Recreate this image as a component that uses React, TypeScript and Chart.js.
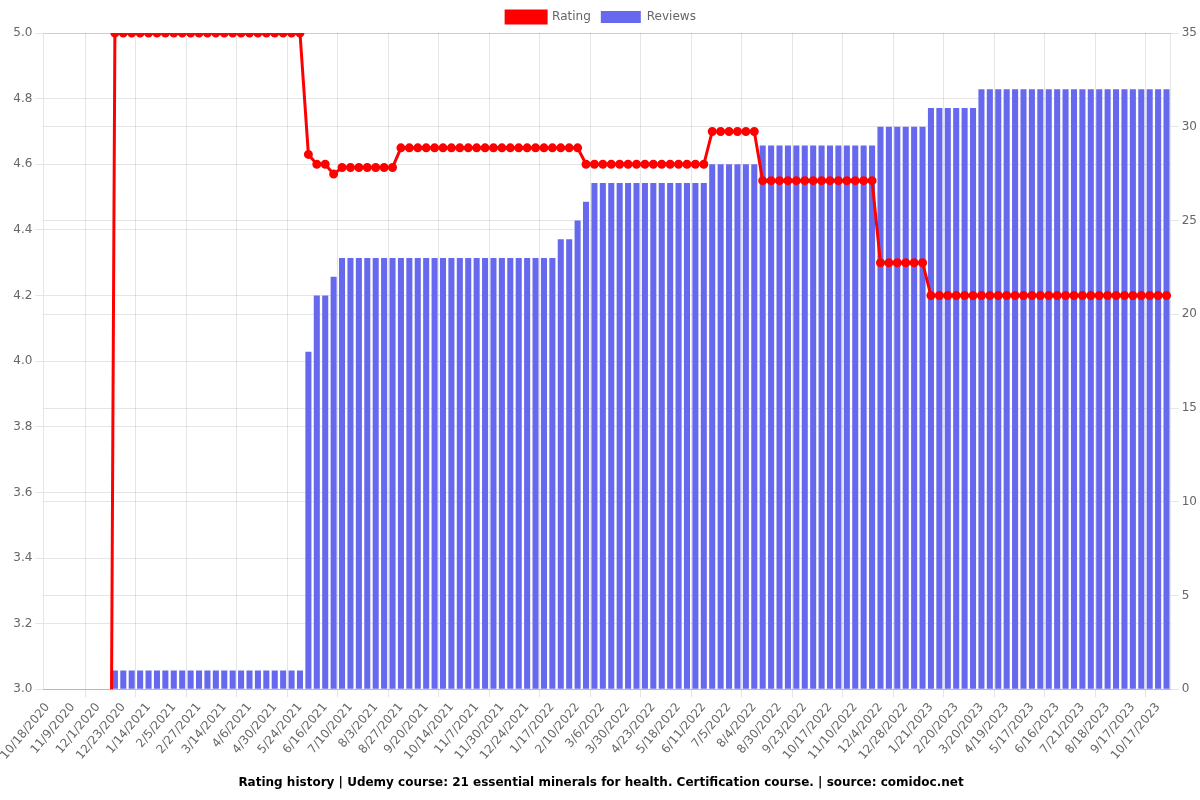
import React, { useEffect, useRef } from "react";
import { Chart, registerables } from "chart.js";

Chart.register(...registerables);

const dateLabels: string[] = [
  "10/18/2020", "10/25/2020", "11/1/2020",
  "11/9/2020", "11/16/2020", "11/23/2020",
  "12/1/2020", "12/8/2020", "12/15/2020",
  "12/23/2020", "12/30/2020", "1/6/2021",
  "1/14/2021", "1/21/2021", "1/28/2021",
  "2/5/2021", "2/12/2021", "2/19/2021",
  "2/27/2021", "3/4/2021", "3/9/2021",
  "3/14/2021", "3/22/2021", "3/29/2021",
  "4/6/2021", "4/14/2021", "4/22/2021",
  "4/30/2021", "5/8/2021", "5/16/2021",
  "5/24/2021", "6/1/2021", "6/8/2021",
  "6/16/2021", "6/24/2021", "7/2/2021",
  "7/10/2021", "7/18/2021", "7/26/2021",
  "8/3/2021", "8/11/2021", "8/19/2021",
  "8/27/2021", "9/4/2021", "9/12/2021",
  "9/20/2021", "9/28/2021", "10/6/2021",
  "10/14/2021", "10/22/2021", "10/30/2021",
  "11/7/2021", "11/15/2021", "11/22/2021",
  "11/30/2021", "12/8/2021", "12/16/2021",
  "12/24/2021", "1/1/2022", "1/9/2022",
  "1/17/2022", "1/25/2022", "2/2/2022",
  "2/10/2022", "2/18/2022", "2/26/2022",
  "3/6/2022", "3/14/2022", "3/22/2022",
  "3/30/2022", "4/7/2022", "4/15/2022",
  "4/23/2022", "5/1/2022", "5/9/2022",
  "5/18/2022", "5/26/2022", "6/3/2022",
  "6/11/2022", "6/19/2022", "6/27/2022",
  "7/5/2022", "7/15/2022", "7/25/2022",
  "8/4/2022", "8/12/2022", "8/21/2022",
  "8/30/2022", "9/7/2022", "9/15/2022",
  "9/23/2022", "10/1/2022", "10/9/2022",
  "10/17/2022", "10/25/2022", "11/2/2022",
  "11/10/2022", "11/18/2022", "11/26/2022",
  "12/4/2022", "12/12/2022", "12/20/2022",
  "12/28/2022", "1/5/2023", "1/13/2023",
  "1/21/2023", "1/31/2023", "2/10/2023",
  "2/20/2023", "3/1/2023", "3/10/2023",
  "3/20/2023", "3/30/2023", "4/9/2023",
  "4/19/2023", "4/28/2023", "5/7/2023",
  "5/17/2023", "5/27/2023", "6/6/2023",
  "6/16/2023", "6/28/2023", "7/9/2023",
  "7/21/2023", "7/30/2023", "8/8/2023",
  "8/18/2023", "8/28/2023", "9/7/2023",
  "9/17/2023", "9/27/2023", "10/7/2023",
  "10/17/2023", "10/25/2023",
];

const ratingValues: number[] = [
  0, 0, 0, 0, 0, 0, 0, 0,
  5.0, 5.0, 5.0, 5.0, 5.0, 5.0, 5.0, 5.0, 5.0, 5.0, 5.0, 5.0,
  5.0, 5.0, 5.0, 5.0, 5.0, 5.0, 5.0, 5.0, 5.0, 5.0, 5.0,
  4.63, 4.6, 4.6, 4.57,
  4.59, 4.59, 4.59, 4.59, 4.59, 4.59, 4.59,
  4.65, 4.65, 4.65, 4.65, 4.65, 4.65, 4.65, 4.65, 4.65, 4.65, 4.65,
  4.65, 4.65, 4.65, 4.65, 4.65, 4.65, 4.65, 4.65, 4.65, 4.65, 4.65,
  4.6, 4.6, 4.6, 4.6, 4.6, 4.6, 4.6, 4.6, 4.6, 4.6, 4.6, 4.6, 4.6, 4.6, 4.6,
  4.7, 4.7, 4.7, 4.7, 4.7, 4.7,
  4.55, 4.55, 4.55, 4.55, 4.55, 4.55, 4.55, 4.55, 4.55, 4.55, 4.55, 4.55, 4.55, 4.55,
  4.3, 4.3, 4.3, 4.3, 4.3, 4.3,
  4.2, 4.2, 4.2, 4.2, 4.2, 4.2, 4.2, 4.2, 4.2, 4.2,
  4.2, 4.2, 4.2, 4.2, 4.2, 4.2, 4.2, 4.2, 4.2, 4.2,
  4.2, 4.2, 4.2, 4.2, 4.2, 4.2, 4.2, 4.2, 4.2,
];

const reviewCounts: number[] = [
  0, 0, 0, 0, 0, 0, 0, 0,
  1, 1, 1, 1, 1, 1, 1, 1, 1, 1, 1, 1,
  1, 1, 1, 1, 1, 1, 1, 1, 1, 1, 1,
  18, 21, 21, 22,
  23, 23, 23, 23, 23, 23, 23, 23, 23, 23, 23, 23, 23,
  23, 23, 23, 23, 23, 23, 23, 23, 23, 23, 23, 23, 23,
  24, 24, 25, 26,
  27, 27, 27, 27, 27, 27, 27, 27, 27, 27, 27, 27, 27, 27,
  28, 28, 28, 28, 28, 28,
  29, 29, 29, 29, 29, 29, 29, 29, 29, 29, 29, 29, 29, 29,
  30, 30, 30, 30, 30, 30,
  31, 31, 31, 31, 31, 31,
  32, 32, 32, 32, 32, 32, 32, 32, 32, 32, 32, 32,
  32, 32, 32, 32, 32, 32, 32, 32, 32, 32, 32,
];

const titleText =
  "Rating history | Udemy course: 21 essential minerals for health. Certification course. | source: comidoc.net";

export default function App() {
  const canvasRef = useRef<HTMLCanvasElement | null>(null);

  useEffect(() => {
    if (!canvasRef.current) return;
    Chart.defaults.font.family = "'DejaVu Sans', sans-serif";
    Chart.defaults.font.size = 12;
    Chart.defaults.color = "#666";
    const chart = new Chart(canvasRef.current, {
      type: "bar",
      data: {
        labels: dateLabels,
        datasets: [
          {
            type: "line",
            label: "Rating",
            data: ratingValues,
            borderColor: "#ff0000",
            backgroundColor: "#ff0000",
            borderWidth: 3,
            pointRadius: 3,
            pointBackgroundColor: "#ff0000",
            pointBorderColor: "#ff0000",
            tension: 0,
            yAxisID: "y",
          },
          {
            type: "bar",
            label: "Reviews",
            data: reviewCounts,
            backgroundColor: "#6669ee",
            borderColor: "#6669ee",
            yAxisID: "y1",
          },
        ],
      },
      options: {
        animation: false,
        responsive: false,
        maintainAspectRatio: false,
        layout: { padding: { left: 2, top: 1 } },
        plugins: {
          legend: {
            position: "top",
          },
          title: {
            display: true,
            text: titleText,
            position: "bottom",
            color: "#000",
            font: { size: 12, weight: "bold" },
          },
          tooltip: { enabled: false },
        },
        scales: {
          x: {
            ticks: { maxTicksLimit: 45 },
          },
          y: {
            type: "linear",
            position: "left",
            min: 3,
            max: 5,
            ticks: {
              stepSize: 0.2,
              callback: (v: any) => Number(v).toFixed(1),
            },
          },
          y1: {
            type: "linear",
            position: "right",
            min: 0,
            max: 35,
            ticks: { stepSize: 5 },
          },
        },
      },
    });
    return () => chart.destroy();
  }, []);

  return (
    <div style={{ position: "fixed", left: 0, top: 0, width: 1200, height: 800 }}>
      <canvas ref={canvasRef} width={1200} height={800} />
    </div>
  );
}
